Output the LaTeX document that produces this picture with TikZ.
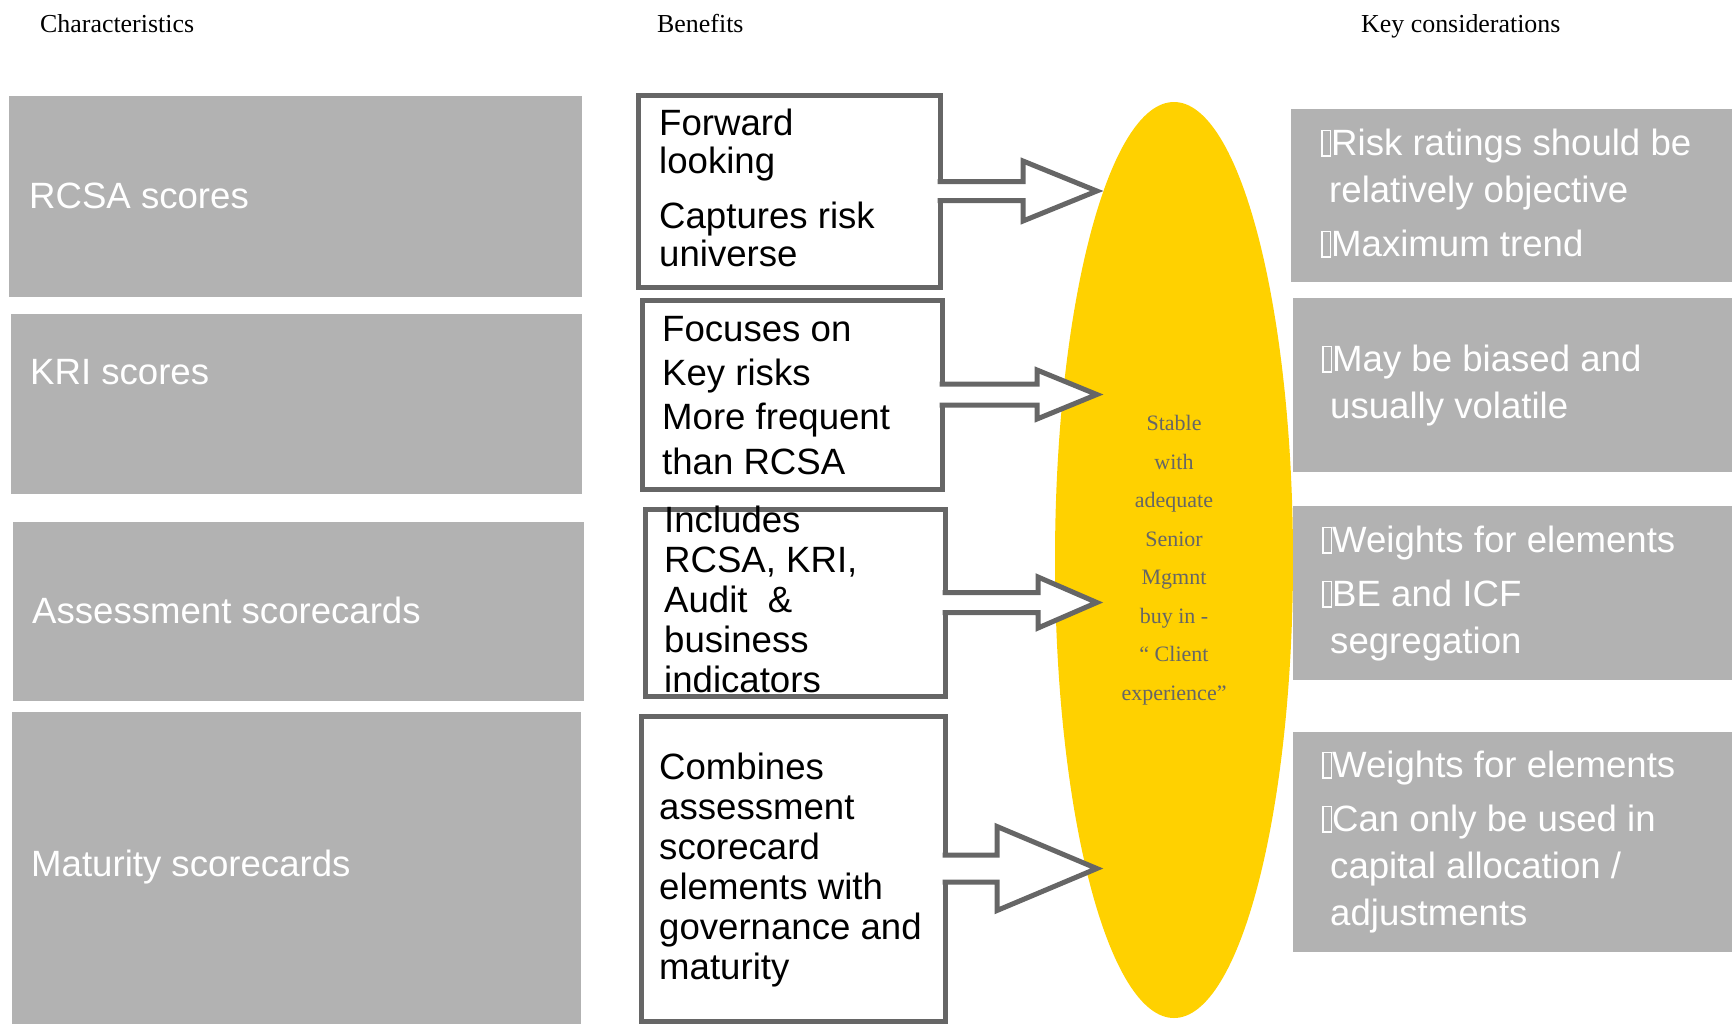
\documentclass[tikz,border=0pt]{standalone}
\usepackage{fontspec}
\setmainfont{Liberation Sans}
\newfontfamily\headfont{Liberation Serif}
\usepackage{xcolor}
\usetikzlibrary{shapes.geometric, positioning, calc}

\definecolor{boxgrey}{HTML}{B2B2B2}
\definecolor{edgegrey}{HTML}{666666}
\definecolor{ovalyellow}{HTML}{FFD100}
\definecolor{ovaltext}{HTML}{666666}

% box drawn where the bullet glyph is missing
\newcommand{\nobullet}{{\setlength{\fboxsep}{0pt}\setlength{\fboxrule}{1.5pt}\fbox{\rule{0pt}{24pt}\hspace{7pt}}}}

\begin{document}
\begin{tikzpicture}[
    x=1pt, y=-1pt,
    heading/.style={anchor=base west, inner sep=0, font=\headfont\fontsize{25.9}{30}\selectfont},
    charbox/.style={rectangle, fill=boxgrey, anchor=north west, inner sep=0, outer sep=0},
    chartext/.style={anchor=base west, inner sep=0, text=white, font=\fontsize{36.6}{40}\selectfont},
    benefit/.style={rectangle, draw=edgegrey, line width=5pt, fill=white, anchor=north west, inner sep=0, outer sep=0},
    bentext/.style={anchor=base west, inner sep=0, align=left},
    keybox/.style={charbox},
    keytext/.style={anchor=base west, inner sep=0, align=left, text=white, font=\fontsize{36.6}{47}\selectfont},
    fatarrow/.style={draw=edgegrey, line width=5pt, fill=white}
]
\useasboundingbox (0,0) rectangle (1732,1029);

% Column headings
\node[heading] (hchar) at (40,32) {Characteristics};
\node[heading] (hben) at (657,32) {Benefits};
\node[heading] (hkey) at (1361,32) {Key considerations};

% Characteristics
\node[charbox, minimum width=573pt, minimum height=201pt] (rcsa) at (9,96) {};
\node[charbox, minimum width=571pt, minimum height=180pt] (kri) at (11,314) {};
\node[charbox, minimum width=571pt, minimum height=179pt] (assess) at (13,522) {};
\node[charbox, minimum width=569pt, minimum height=312pt] (matur) at (12,712) {};
\node[chartext] (rcsatxt) at (29,208) {RCSA scores};
\node[chartext] (kritxt) at (30,384) {KRI scores};
\node[chartext] (assesstxt) at (32,623) {Assessment scorecards};
\node[chartext] (maturtxt) at (31,876) {Maturity scorecards};

% Oval
\node[ellipse, fill=ovalyellow, minimum width=238pt, minimum height=916pt, inner sep=0, align=center,
      text=ovaltext, font=\headfont\fontsize{22}{38.5}\selectfont] (ell) at (1174,560)
    {Stable\\with\\adequate\\Senior\\Mgmnt\\buy in -\\“ Client\\experience”};

% Key considerations (text placed by its last baseline)
\node[keybox, minimum width=441pt, minimum height=173pt] (objective) at (1291,109) {};
\node[keybox, minimum width=439pt, minimum height=174pt] (biased) at (1293,298) {};
\node[keybox, minimum width=439pt, minimum height=174pt] (weights) at (1293,506) {};
\node[keybox, minimum width=439pt, minimum height=220pt] (capital) at (1293,732) {};
\node[keytext] (objectivetxt) at (1321,256)
    {\nobullet Risk ratings should be\\\hspace*{8pt}relatively objective\\[7pt]\nobullet Maximum trend};
\node[keytext] (biasedtxt) at (1322,418)
    {\nobullet May be biased and\\\hspace*{8pt}usually volatile};
\node[keytext] (weightstxt) at (1322,653)
    {\nobullet Weights for elements\\[7pt]\nobullet BE and ICF\\\hspace*{8pt}segregation};
\node[keytext] (capitaltxt) at (1322,925)
    {\nobullet Weights for elements\\[7pt]\nobullet Can only be used in\\\hspace*{8pt}capital allocation /\\\hspace*{8pt}adjustments};

% Benefits
\node[benefit, minimum width=302pt, minimum height=192pt] (fwd) at (638,95) {};
\node[benefit, minimum width=300pt, minimum height=189pt] (focus) at (642,300) {};
\node[benefit, minimum width=300pt, minimum height=187pt] (incl) at (645,509) {};
\node[benefit, minimum width=304pt, minimum height=305pt] (comb) at (641,716) {};

% Block arrows from benefits to the oval
\foreach \src/\sh/\hb/\hh in {fwd/9.5/83/30, focus/10.5/95/24.5, incl/10/93/25.5, comb/13.5/52/42}
  \draw[fatarrow] ($(\src.east)+(-2.5,-\sh)$) -- ($(\src.east)+(\hb,-\sh)$) -- ($(\src.east)+(\hb,-\hh)$)
    -- ($(\src.east -| ell.west)+(42,0)$) -- ($(\src.east)+(\hb,\hh)$) -- ($(\src.east)+(\hb,\sh)$) -- ($(\src.east)+(-2.5,\sh)$);

\node[bentext, font=\fontsize{36.6}{38.5}\selectfont] (fwdtxt) at (659,266.5)
    {Forward\\looking\\[16pt]Captures risk\\universe};
\node[bentext, font=\fontsize{36.6}{44.3}\selectfont] (focustxt) at (662,474)
    {Focuses on\\Key risks\\More frequent\\than RCSA};
\node[bentext, font=\fontsize{36.6}{40}\selectfont] (incltxt) at (664,692)
    {Includes\\RCSA, KRI,\\Audit~ \&\\business\\indicators};
\node[bentext, font=\fontsize{36.6}{40}\selectfont] (combtxt) at (659,979)
    {Combines\\assessment\\scorecard\\elements with\\governance and\\maturity};

\end{tikzpicture}
\end{document}
